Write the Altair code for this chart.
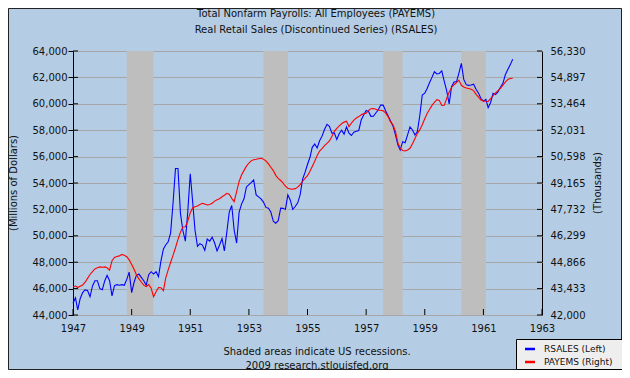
import altair as alt
import pandas as pd

TITLE_LINES = ["Total Nonfarm Payrolls: All Employees (PAYEMS)",
               "Real Retail Sales (Discontinued Series) (RSALES)"]
LEFT_TITLE = "(Millions of Dollars)"
RIGHT_TITLE = "(Thousands)"
FOOTER = ["Shaded areas indicate US recessions.", "2009 research.stlouisfed.org"]
SERIES = ["RSALES (Left)", "PAYEMS (Right)"]
COLORS = ["#0000FF", "#FF0000"]

START = "1947-01-01"
rsales = [
    44890, 45300, 44380, 45250, 45700, 45900, 45850, 45380, 46200, 46600, 46600, 46000,
    45920, 46600, 47000, 46600, 45450, 46230, 46300, 46250, 46300, 46250, 46700, 47250,
    45700, 46500, 47000, 47100, 46850, 46600, 46250, 47050, 47280, 47100, 47280, 46900,
    48100, 49000, 49300, 49550, 50200, 52500, 55100, 55100, 51700, 50400, 49600, 51800,
    54700, 52500, 50440, 49200, 49400, 49300, 48900, 49750, 49600, 49900, 49450, 48850,
    49300, 49800, 48850, 50300, 51800, 52300, 50440, 49450, 51800, 52400, 52800, 53700,
    53870, 54050, 54230, 53100, 52950, 52800, 52550, 52150, 52090, 51800, 51100, 50950,
    51150, 52100, 52080, 52000, 53100, 52700, 52000, 52220, 52500, 53100, 54300, 54800,
    55400, 55950, 56700, 56950, 56650, 57200, 57550, 58050, 58450, 58300, 57780, 57800,
    57300, 57750, 58000, 57700, 58250, 57780, 57600, 57850, 57920, 57980, 58800, 59150,
    59500, 59400, 59050, 59060, 59300, 59550, 59900, 59900, 59450, 59100, 58700, 58320,
    57640, 56880, 56500, 57130, 57050, 57650, 58250, 58020, 57640, 57900, 59150, 60670,
    60800, 61180, 61600, 62000, 62430, 62260, 62300, 62500, 61700, 61000, 60000, 61300,
    61650, 61680, 62310, 63070, 61850, 61450, 61400, 61430, 61480, 61100, 60800, 60400,
    60200, 60340, 59700, 60100, 60800, 60700, 60900, 61250, 61550, 62200, 62600, 62950, 63370,
]
payems = [
    43536, 43570, 43490, 43560, 43630, 43780, 43990, 44200, 44350, 44500, 44560, 44610,
    44590, 44610, 44560, 44430, 44950, 45120, 45180, 45210, 45290, 45240, 45160, 44990,
    44740, 44470, 44180, 43960, 43790, 43620, 43540, 43650, 43450, 42990, 43260, 43490,
    43480, 43320, 44000, 44450, 44850, 45250, 45650, 46100, 46500, 46780, 46790, 47100,
    47550, 47820, 47870, 47920, 48000, 48060, 48030, 47970, 48000, 48070, 48180, 48260,
    48310, 48420, 48500, 48600, 48560, 48330, 48150, 48700, 49250, 49600, 49850, 50080,
    50250, 50380, 50430, 50450, 50480, 50505, 50460, 50360, 50200, 50020, 49840, 49580,
    49420, 49300, 49170, 48990, 48880, 48840, 48830, 48860, 48940, 49080, 49260, 49420,
    49560, 49800, 50060, 50350, 50650, 50900, 51030, 51190, 51320, 51450, 51690, 51970,
    52130, 52270, 52380, 52470, 52520, 52230, 52420, 52580, 52690, 52770, 52870, 52930,
    52950, 53100, 53200, 53210, 53170, 53110, 53110, 53080, 52960, 52770, 52480, 52320,
    51960, 51330, 51050, 50930, 50900, 50960, 51050, 51300, 51580, 51860, 52060, 52330,
    52650, 52950, 53150, 53380, 53540, 53690, 53650, 53370, 53380, 53750, 54100, 54350,
    54500, 54620, 54750, 54470, 54380, 54320, 54290, 54250, 54180, 53980, 53830, 53670,
    53620, 53600, 53590, 53740, 53900, 54060, 54180, 54300, 54480, 54640, 54780, 54840, 54850,
]
rec_start = ["1948-11-01", "1953-07-01", "1957-08-01", "1960-04-01"]
rec_end = ["1949-10-01", "1954-05-01", "1958-04-01", "1961-02-01"]
left_ticks = [44000, 46000, 48000, 50000, 52000, 54000, 56000, 58000, 60000, 62000, 64000]
right_ticks = [42000, 43433, 44866, 46299, 47732, 49165, 50598, 52031, 53464, 54897, 56330]
year_ticks = [1947, 1949, 1951, 1953, 1955, 1957, 1959, 1961, 1963]

W, H = 469, 264
BG = "#B5CDE4"
FONT = "DejaVu Sans"
TXT = "#111111"

dates = pd.date_range(START, periods=len(rsales), freq="MS").strftime("%Y-%m-%d")
df = pd.DataFrame({"date": dates, "rsales": rsales, "payems": payems})
rec_df = pd.DataFrame({"start": rec_start, "end": rec_end})
year_df = pd.DataFrame({"d": [f"{y}-01-01" for y in year_ticks]})

xscale = alt.Scale(type="utc",
                   domain=[alt.DateTime(year=1947, month=1, date=1, utc=True),
                           alt.DateTime(year=1963, month=1, date=1, utc=True)])
xaxis = alt.Axis(values=[alt.DateTime(year=y, month=1, date=1, utc=True) for y in year_ticks],
                 format="%Y", formatType="utc", ticks=False, grid=False, domain=False,
                 labelFlush=False, labelOverlap=False,
                 labelPadding=8, title=None, labelFont=FONT, labelFontSize=10,
                 labelColor=TXT)
lscale = alt.Scale(domain=[44000, 64000], nice=False, zero=False)
rscale = alt.Scale(domain=[42000, 56330], nice=False, zero=False)


def X(field):
    return alt.X(field, scale=xscale, axis=xaxis)


rec = alt.Chart(rec_df).mark_rect(color="#BEBEBE").encode(
    x=X("start:T"), x2="end:T", y=alt.value(0), y2=alt.value(H))

blue = alt.Chart(df).mark_line(color=COLORS[0], strokeWidth=1.1).encode(
    x=X("date:T"),
    y=alt.Y("rsales:Q", scale=lscale,
            axis=alt.Axis(orient="left", values=left_ticks, format=",d", grid=True,
                          gridColor="#A6A6A6", gridWidth=1, tickColor="#000",
                          tickSize=5, labelPadding=1, domain=False, title=None,
                          labelFlush=False,
                          labelFont=FONT, labelFontSize=10, labelColor=TXT)))

red = alt.Chart(df).mark_line(color=COLORS[1], strokeWidth=1.1).encode(
    x=X("date:T"),
    y=alt.Y("payems:Q", scale=rscale,
            axis=alt.Axis(orient="right", values=right_ticks, format=",d", grid=False,
                          ticks=False, labelPadding=8, domain=False, title=None,
                          labelFlush=False,
                          labelFont=FONT, labelFontSize=10, labelColor=TXT)))

left_in = alt.Chart(pd.DataFrame({"v": left_ticks})).mark_rule(color="#000").encode(
    y=alt.Y("v:Q", scale=lscale, axis=None), x=alt.value(0), x2=alt.value(5))
right_in = alt.Chart(pd.DataFrame({"v": right_ticks})).mark_rule(color="#000").encode(
    y=alt.Y("v:Q", scale=rscale, axis=None), x=alt.value(W - 5), x2=alt.value(W))
bottom_in = alt.Chart(year_df).mark_rule(color="#000").encode(
    x=X("d:T"), y=alt.value(H), y2=alt.value(H - 6))

border = alt.Chart(pd.DataFrame({"a": [0]})).mark_rect(
    fillOpacity=0, stroke="#222222", strokeWidth=1).encode(
    x=alt.value(-64.5), x2=alt.value(548.5), y=alt.value(-42.5), y2=alt.value(318.5))


def text_layer(lines, x, ys, size=10, angle=0, align="center"):
    d = pd.DataFrame({"t": lines, "y": ys})
    return alt.Chart(d).mark_text(font=FONT, fontSize=size, color=TXT, angle=angle,
                                  align=align, baseline="middle").encode(
        x=alt.value(x), y=alt.Y("y:Q", scale=None, axis=None), text="t:N")


title = text_layer(TITLE_LINES, 243, [-37, -21])
footer = text_layer(FOOTER, 244, [301, 315])
ltitle = text_layer([LEFT_TITLE], -59, [132], angle=270)
rtitle = text_layer([RIGHT_TITLE], 525, [132], angle=270)

leg_box = alt.Chart(pd.DataFrame({"a": [0]})).mark_rect(
    fill="#EEEEEE", stroke="#000", strokeWidth=1).encode(
    x=alt.value(443.5), x2=alt.value(550.5), y=alt.value(288.5), y2=alt.value(318.5))
leg_df = pd.DataFrame({"s": SERIES, "y": [298, 311]})
leg_lines = alt.Chart(leg_df).mark_rule(strokeWidth=2.5).encode(
    x=alt.value(452), x2=alt.value(462), y=alt.Y("y:Q", scale=None, axis=None),
    color=alt.Color("s:N", scale=alt.Scale(domain=SERIES, range=COLORS), legend=None))
leg_text = alt.Chart(leg_df).mark_text(font=FONT, fontSize=9, color=TXT, align="left",
                                       baseline="middle").encode(
    x=alt.value(471), y=alt.Y("y:Q", scale=None, axis=None), text="s:N")

chart = alt.layer(
    rec, blue, red, left_in, right_in, bottom_in, border, title, footer, ltitle, rtitle,
    leg_box, leg_lines, leg_text
).resolve_scale(y="independent").properties(
    width=W, height=H,
    padding={"left": 65, "top": 43, "right": 80, "bottom": 55},
    autosize=alt.AutoSizeParams(type="none"),
    background=BG,
).configure_view(stroke="#000", strokeWidth=1)

chart.save("out.html", embed_options={"renderer": "svg", "actions": False})
